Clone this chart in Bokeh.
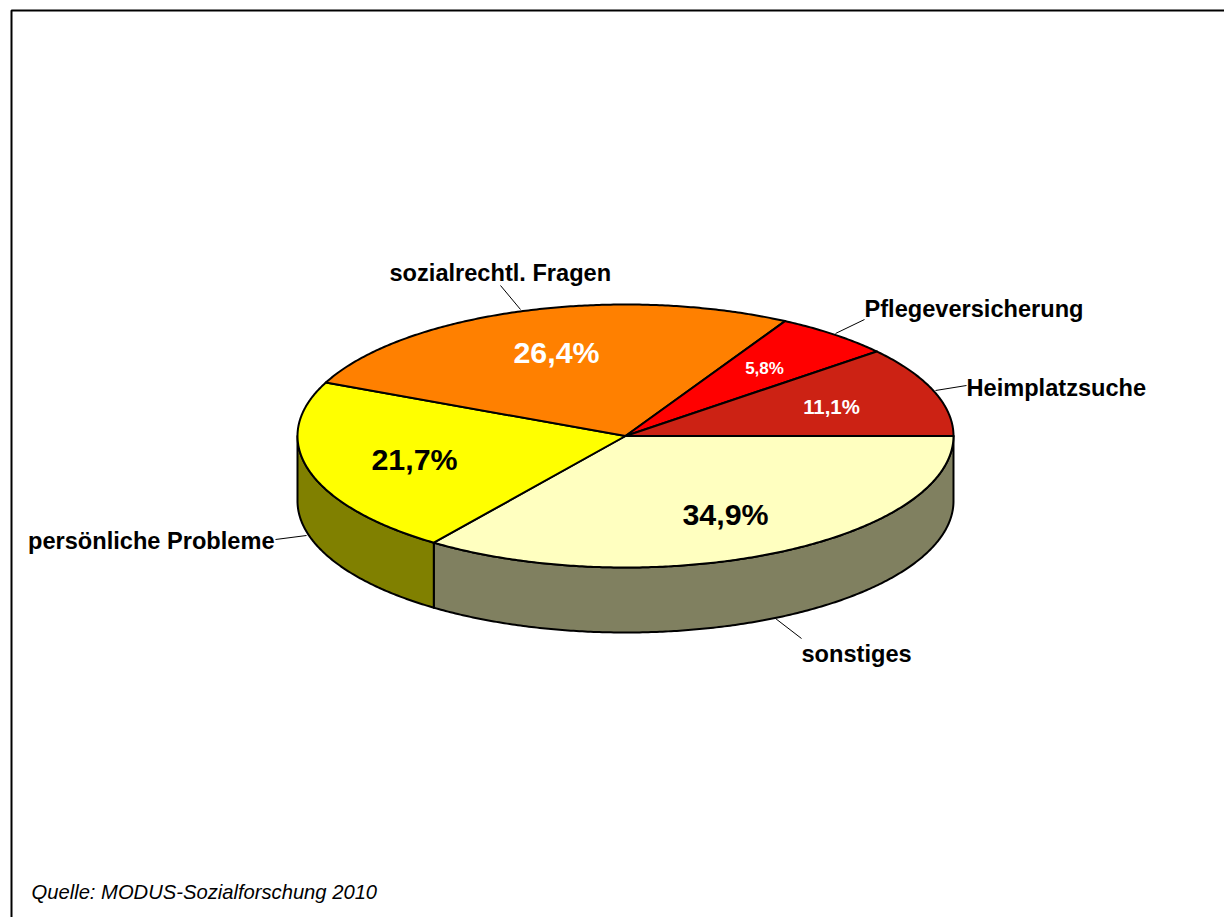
import numpy as np
from bokeh.plotting import figure
from bokeh.models import Range1d
from bokeh.core.properties import value
from bokeh.embed import file_html
from bokeh.resources import INLINE

# Consultation topics, clockwise from the three o'clock position
categories = ["sonstiges", "persönliche Probleme", "sozialrechtl. Fragen",
              "Pflegeversicherung", "Heimplatzsuche"]
shares = [34.9, 21.7, 26.4, 5.8, 11.1]
share_labels = ["34,9%", "21,7%", "26,4%", "5,8%", "11,1%"]
top_colors = ["#FFFFC0", "#FFFF00", "#FF8000", "#FF0000", "#CC2214"]
wall_colors = ["#808060", "#808000", "#804000", "#800000", "#661109"]
source_note = "Quelle: MODUS-Sozialforschung 2010"

W, H = 1224, 917
CX, CY, RX, RY, DEPTH = 625.0, 435.5, 328.0, 131.5, 65.0
FONT = value("Liberation Sans")

p = figure(width=W, height=H, output_backend="svg", toolbar_location=None,
           x_range=Range1d(0, W), y_range=Range1d(H, 0), min_border=0,
           outline_line_color=None, background_fill_color="white",
           border_fill_color="white")
p.axis.visible = False
p.grid.visible = False

# Slice boundaries in degrees, growing clockwise on screen
edges = np.concatenate([[0.0], np.cumsum(shares) / sum(shares) * 360.0])


def arc(a0, a1, dy=0.0):
    t = np.radians(np.linspace(a0, a1, max(int(abs(a1 - a0) * 2), 2)))
    return CX + RX * np.cos(t), CY + dy + RY * np.sin(t)


# Rim of the disc: only the part facing the viewer is visible
for a0, a1, color in zip(edges[:-1], edges[1:], wall_colors):
    lo, hi = max(a0, 0.0), min(a1, 180.0)
    if hi <= lo:
        continue
    xt, yt = arc(lo, hi)
    xb, yb = arc(hi, lo, DEPTH)
    p.patch(np.r_[xt, xb], np.r_[yt, yb], fill_color=color,
            line_color="black", line_width=2, line_join="round")

# Top face
for a0, a1, color in zip(edges[:-1], edges[1:], top_colors):
    xt, yt = arc(a0, a1)
    p.patch(np.r_[CX, xt], np.r_[CY, yt], fill_color=color,
            line_color="black", line_width=2, line_join="round")

# Percentage labels inside the slices
value_x = [725, 414, 556, 764, 831]
value_y = [513, 458, 351, 368, 406]
value_size = ["30.4px", "30.4px", "30.4px", "17px", "20.4px"]
value_color = ["black", "black", "white", "white", "white"]
for x, y, s, size, c in zip(value_x, value_y, share_labels, value_size, value_color):
    p.text([x], [y], text=[s], text_font=FONT, text_font_style="bold",
           text_font_size=size, text_color=c, text_align="center",
           text_baseline="middle")

# Category names with their leader lines
name_x = [801, 274, 389, 864, 966]
name_y = [653, 540, 272, 308, 387]
name_align = ["left", "right", "left", "left", "left"]
leader_x = [(775, 801), (306, 275), (520, 500), (835, 864), (935, 966)]
leader_y = [(618, 638), (535, 539), (309, 285), (333, 319), (390, 385)]
for lx, ly in zip(leader_x, leader_y):
    p.line(list(lx), list(ly), line_color="black", line_width=1)
for x, y, s, al in zip(name_x, name_y, categories, name_align):
    p.text([x], [y], text=[s], text_font=FONT, text_font_style="bold",
           text_font_size="23.6px", text_color="black", text_align=al,
           text_baseline="middle")

p.text([31], [891], text=[source_note], text_font=FONT, text_font_style="italic",
       text_font_size="20.2px", text_color="black", text_align="left",
       text_baseline="middle")

# Chart frame: top and left rules only reach the visible window edges
p.line([11, 11, W], [H, 10, 10], line_color="black", line_width=2)

open("out.html", "w").write(file_html(p, INLINE))
